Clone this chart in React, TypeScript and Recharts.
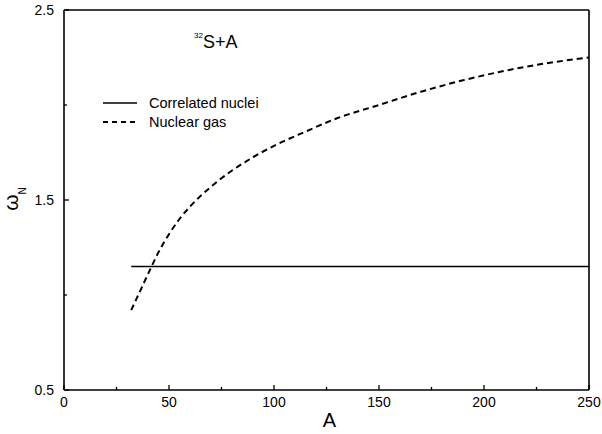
import React from "react";
import {
  LineChart,
  Line,
  XAxis,
  YAxis,
  Legend,
} from "recharts";

// values
const gasA = [32, 36, 40, 45, 50, 55, 60, 70, 80, 90, 100, 115, 130, 150, 170, 190, 210, 230, 250];
const gasOmega = [0.92, 1.015, 1.11, 1.225, 1.32, 1.4, 1.465, 1.57, 1.655, 1.725, 1.785, 1.86, 1.93, 2.0, 2.07, 2.13, 2.18, 2.22, 2.25];
const correlatedA = [32, 250];
const correlatedOmega = [1.15, 1.15];

const xTicks = [0, 25, 50, 75, 100, 125, 150, 175, 200, 225, 250];
const xLabels = [0, 50, 100, 150, 200, 250];
const yTicks = [0.5, 1.0, 1.5, 2.0, 2.5];
const yLabels = [0.5, 1.5, 2.5];

const gasData = gasA.map((a, i) => ({ A: a, omega: gasOmega[i] }));
const correlatedData = correlatedA.map((a, i) => ({ A: a, omega: correlatedOmega[i] }));

const FONT = "'Liberation Sans', Arial, Helvetica, sans-serif";
const W = 602;
const H = 434;
const INK = "#000";

const BottomTick = (props: any) => {
  const { x, y, payload } = props;
  const v = payload.value;
  const major = xLabels.includes(v);
  return (
    <g>
      <line x1={x} x2={x} y1={y} y2={y - (major ? 5 : 3)} stroke={INK} strokeWidth={1.3} />
      {major && (
        <text x={x} y={y + 17} textAnchor="middle" fontSize={14} fontFamily={FONT} fill={INK}>
          {v}
        </text>
      )}
    </g>
  );
};

const TopTick = (props: any) => {
  const { x, y, payload } = props;
  const major = xLabels.includes(payload.value);
  return <line x1={x} x2={x} y1={y} y2={y + (major ? 5 : 3)} stroke={INK} strokeWidth={1.3} />;
};

const LeftTick = (props: any) => {
  const { x, y, payload } = props;
  const v = payload.value;
  const major = yLabels.includes(v);
  return (
    <g>
      <line x1={x} x2={x + (major ? 5 : 3)} y1={y} y2={y} stroke={INK} strokeWidth={1.3} />
      {major && (
        <text x={x - 10} y={y + 5} textAnchor="end" fontSize={14} fontFamily={FONT} fill={INK}>
          {v.toFixed(1)}
        </text>
      )}
    </g>
  );
};

const RightTick = (props: any) => {
  const { x, y, payload } = props;
  const major = yLabels.includes(payload.value);
  return <line x1={x} x2={x - (major ? 5 : 3)} y1={y} y2={y} stroke={INK} strokeWidth={1.3} />;
};

const OmegaLabel = () => {
  const cx = 18;
  const cy = 199;
  return (
    <text
      x={cx}
      y={cy}
      transform={`rotate(-90, ${cx}, ${cy})`}
      textAnchor="middle"
      fontFamily={FONT}
      fill={INK}
      fontSize={21}
    >
      ω
      <tspan fontSize={10} dy={8}>
        N
      </tspan>
    </text>
  );
};

const Overlay = () => (
  <svg width={W} height={H} style={{ pointerEvents: "none" }}>
    <g fontFamily={FONT} fill={INK}>
      <text x={194} y={48} fontSize={18}>
        <tspan fontSize={8} dy={-10}>
          32
        </tspan>
        <tspan dy={10}>S+A</tspan>
      </text>
      <line x1={103} x2={137} y1={103} y2={103} stroke={INK} strokeWidth={1.6} />
      <text x={149} y={108} fontSize={14.5}>
        Correlated nuclei
      </text>
      <line x1={103} x2={137} y1={122} y2={122} stroke={INK} strokeWidth={1.8} strokeDasharray="5 4" />
      <text x={149} y={127} fontSize={14.5}>
        Nuclear gas
      </text>
    </g>
  </svg>
);

export default function App() {
  return (
    <div style={{ position: "absolute", left: 0, top: 0, width: W, height: H, background: "#fff" }}>
      <LineChart width={W} height={H} margin={{ top: 0, right: 0, bottom: 0, left: 0 }}>
        <XAxis
          dataKey="A"
          type="number"
          domain={[0, 250]}
          ticks={xTicks}
          interval={0}
          height={44}
          tickSize={0}
          tickMargin={0}
          tickLine={false}
          axisLine={{ stroke: INK, strokeWidth: 1.6 }}
          tick={<BottomTick />}
          label={{ value: "A", position: "insideBottom", offset: 7, dx: 3, fontSize: 20, fill: INK, fontFamily: FONT }}
        />
        <XAxis
          xAxisId="top"
          orientation="top"
          type="number"
          domain={[0, 250]}
          ticks={xTicks}
          interval={0}
          height={10}
          tickSize={0}
          tickMargin={0}
          tickLine={false}
          axisLine={{ stroke: INK, strokeWidth: 1.6 }}
          tick={<TopTick />}
        />
        <YAxis
          type="number"
          domain={[0.5, 2.5]}
          ticks={yTicks}
          interval={0}
          width={64}
          tickSize={0}
          tickMargin={0}
          tickLine={false}
          axisLine={{ stroke: INK, strokeWidth: 1.6 }}
          tick={<LeftTick />}
          label={<OmegaLabel />}
        />
        <YAxis
          yAxisId="right"
          orientation="right"
          type="number"
          domain={[0.5, 2.5]}
          ticks={yTicks}
          interval={0}
          width={13}
          tickSize={0}
          tickMargin={0}
          tickLine={false}
          axisLine={{ stroke: INK, strokeWidth: 1.6 }}
          tick={<RightTick />}
        />
        <Line
          data={correlatedData}
          dataKey="omega"
          type="linear"
          stroke={INK}
          strokeWidth={1.7}
          dot={false}
          isAnimationActive={false}
        />
        <Line
          data={gasData}
          dataKey="omega"
          type="monotone"
          stroke={INK}
          strokeWidth={2}
          strokeDasharray="6 4"
          dot={false}
          isAnimationActive={false}
        />
        <Legend
          layout="horizontal"
          verticalAlign="middle"
          align="center"
          content={<Overlay />}
          wrapperStyle={{ position: "absolute", left: 0, top: 0, width: W, height: H, pointerEvents: "none" }}
        />
      </LineChart>
    </div>
  );
}
